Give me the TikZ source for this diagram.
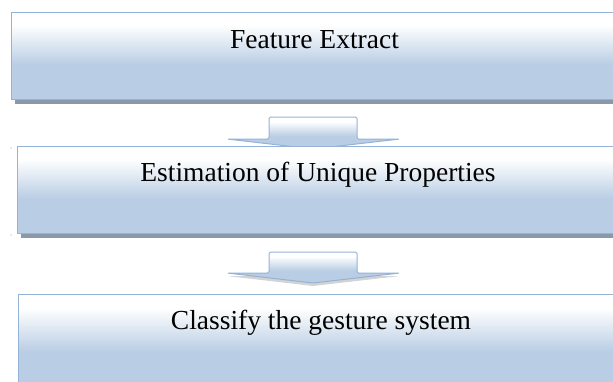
\documentclass[tikz,border=0pt]{standalone}
\usepackage{fontspec}
\setmainfont{Liberation Serif}
\usetikzlibrary{shadows,calc}
\definecolor{boxblue}{RGB}{185,205,228}
\definecolor{boxline}{RGB}{149,179,215}
\definecolor{shadowc}{RGB}{138,152,172}
\pgfdeclareverticalshading{boxshade}{100bp}{color(0bp)=(boxblue); color(45bp)=(boxblue); color(68bp)=(white); color(100bp)=(white)}
\begin{document}
\begin{tikzpicture}[x=1pt,y=1pt,
  box/.style={draw=boxline, line width=1.3pt, shading=boxshade,
    minimum width=610pt, minimum height=87pt, inner sep=0pt, anchor=north west,
    drop shadow={shadow xshift=3.5pt, shadow yshift=-4pt, fill=shadowc, opacity=1}},
  lbl/.style={font=\fontsize{27.5}{33}\selectfont, anchor=base, inner sep=0pt},
  flow/.style={draw=boxline, line width=1pt, shading=boxshade, rounded corners=1.5pt}]
\useasboundingbox (0,0) rectangle (613,-381);
\clip (0,0) rectangle (613,-381);
% arrow between box 1 and box 2 (drawn first so that box 2 hides its tip)
\coordinate (a1) at (313,-117);
\draw[flow, shift={(a1)}] (-86,-22) -- (-44,-22) -- (-44,0) -- (44,0) -- (44,-22) -- (87,-22) -- (0,-32) -- cycle;
\node[box] (b1) at (11,-12) {};
\node[lbl] (t1) at (314.5,-48) {Feature Extract};
\node[box] (b2) at (17,-146) {};
\node[lbl] (t2) at (318,-181) {Estimation of Unique Properties};
% arrow between box 2 and box 3
\coordinate (a2) at (313,-252);
\draw[flow, shift={(a2)}, drop shadow={shadow xshift=0pt, shadow yshift=-3pt, fill=gray, opacity=0.35}]
  (-86,-21) -- (-44,-21) -- (-44,0) -- (44,0) -- (44,-21) -- (87,-21) -- (0,-31) -- cycle;
\node[box, minimum height=95pt] (b3) at (18,-294) {};
\node[lbl] (t3) at (321,-329) {Classify the gesture system};
\fill[gray!70] (11,-148) circle (0.7) (11,-235) circle (0.7);
\end{tikzpicture}
\end{document}
